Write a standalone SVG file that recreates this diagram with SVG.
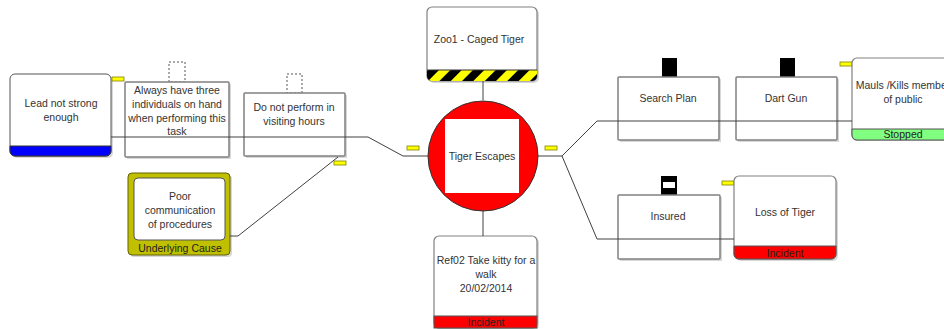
<svg xmlns="http://www.w3.org/2000/svg" width="944" height="329" viewBox="0 0 944 329">
<defs>
<style>
text{font-family:"Liberation Sans",Arial,sans-serif;font-size:10.5px;fill:#333;text-anchor:middle}
.box{fill:#fff;stroke:#808080;stroke-width:1.5}
.sh{fill:#d8d8d8}
.conn{fill:none;stroke:#404040;stroke-width:1}
.tag{fill:#ffff00;stroke:#808000;stroke-width:0.8}
.dash{fill:#fff;stroke:#555;stroke-width:1;stroke-dasharray:2,2}
.blk{fill:#000}
.band{fill:#222}
</style>
<pattern id="haz" patternUnits="userSpaceOnUse" width="16" height="16" patternTransform="rotate(45)">
<rect width="16" height="16" fill="#ffff00"/>
<rect width="8" height="16" fill="#000"/>
</pattern>
<clipPath id="zooClip"><rect x="427" y="7" width="110" height="74" rx="5"/></clipPath>
</defs>

<g id="lead">
<rect x="12" y="76" width="101" height="82" rx="5" class="sh"/>
<rect x="10" y="74" width="101" height="82" rx="5" fill="#fff" stroke="#555" stroke-width="1"/>
<path d="M10,146 H111 V151 a5,5 0 0 1 -5,5 H15 a5,5 0 0 1 -5,-5 Z" fill="#0000ff" stroke="#333" stroke-width="1"/>
<text x="61" y="107">Lead not strong</text>
<text x="61" y="121">enough</text>
<rect class="tag" x="112" y="77" width="12" height="4"/>
</g>

<g id="always">
<rect class="dash" x="169" y="62" width="16" height="20"/>
<rect x="127" y="84" width="104" height="75" class="sh"/>
<rect class="box" x="125" y="82" width="104" height="75" rx="1"/>
<text x="177" y="94">Always have three</text>
<text x="177" y="108">individuals on hand</text>
<text x="177" y="122">when performing this</text>
<text x="177" y="135">task</text>
</g>

<g id="visiting">
<rect class="dash" x="287" y="74" width="15" height="19"/>
<rect x="246" y="95" width="101" height="63" class="sh"/>
<rect class="box" x="244" y="93" width="101" height="63" rx="1"/>
<text x="294" y="111">Do not perform in</text>
<text x="294" y="125">visiting hours</text>
<rect class="tag" x="334" y="161" width="12" height="4"/>
</g>

<g id="poor">
<rect x="130" y="175" width="102" height="82" rx="4" class="sh"/>
<rect x="128" y="173" width="102" height="82" rx="4" fill="#c0c000" stroke="#606000" stroke-width="1"/>
<rect x="134" y="178" width="91" height="62" rx="4" fill="#fff" stroke="#555" stroke-width="1"/>
<text x="180" y="200">Poor</text>
<text x="180" y="214">communication</text>
<text x="180" y="228">of procedures</text>
<text class="band" x="180" y="252">Underlying Cause</text>
</g>

<g id="zoo">
<rect x="429" y="9" width="110" height="74" rx="5" class="sh"/>
<rect x="427" y="7" width="110" height="74" rx="5" fill="#fff" stroke="#808080" stroke-width="1.2"/>
<rect x="427" y="70" width="110" height="11" fill="url(#haz)" clip-path="url(#zooClip)"/>
<line x1="427" y1="70" x2="537" y2="70" stroke="#333" stroke-width="1"/>
<text x="479" y="43">Zoo1 - Caged Tiger</text>
</g>

<g id="tiger">
<circle cx="483" cy="156" r="55" fill="#ff0000" stroke="#333" stroke-width="1"/>
<rect x="445" y="119" width="74" height="74" fill="#fff"/>
<text x="482" y="160">Tiger Escapes</text>
<rect class="tag" x="407" y="146" width="12" height="4"/>
<rect class="tag" x="545" y="146" width="12" height="4"/>
</g>

<g id="ref02">
<rect x="436" y="238" width="103" height="92" rx="5" class="sh"/>
<rect x="434" y="236" width="103" height="92" rx="5" fill="#fff" stroke="#808080" stroke-width="1.2"/>
<rect x="434" y="316" width="103" height="12" fill="#ff0000" stroke="#555" stroke-width="1"/>
<text x="486" y="264">Ref02 Take kitty for a</text>
<text x="486" y="278">walk</text>
<text x="486" y="292">20/02/2014</text>
<text class="band" x="486" y="326">Incident</text>
</g>

<g id="search">
<rect class="blk" x="662" y="58" width="15" height="19"/>
<rect x="620" y="79" width="101" height="63" class="sh"/>
<rect class="box" x="618" y="77" width="101" height="63" rx="1"/>
<text x="668" y="102">Search Plan</text>
</g>

<g id="dart">
<rect class="blk" x="780" y="58" width="15" height="19"/>
<rect x="738" y="79" width="101" height="63" class="sh"/>
<rect class="box" x="736" y="77" width="101" height="63" rx="1"/>
<text x="786" y="102">Dart Gun</text>
</g>

<g id="mauls">
<rect class="tag" x="840" y="62" width="12" height="4"/>
<rect x="852" y="58" width="103" height="82" rx="5" fill="#fff" stroke="#808080" stroke-width="1.2"/>
<path d="M852,129 H955 V140 H857 a5,5 0 0 1 -5,-5 Z" fill="#80ff80" stroke="#555" stroke-width="1"/>
<text x="903" y="89">Mauls /Kills member</text>
<text x="903" y="103">of public</text>
<text class="band" x="903" y="138">Stopped</text>
</g>

<g id="insured">
<rect class="blk" x="661" y="176" width="16" height="19"/>
<rect x="663" y="182" width="12" height="6" fill="#fff"/>
<rect x="620" y="197" width="102" height="64" class="sh"/>
<rect class="box" x="618" y="195" width="102" height="64" rx="1"/>
<text x="668" y="220">Insured</text>
</g>

<g id="loss">
<rect class="tag" x="722" y="181" width="12" height="4"/>
<rect x="736" y="178" width="102" height="83" rx="5" class="sh"/>
<rect x="734" y="176" width="102" height="83" rx="5" fill="#fff" stroke="#808080" stroke-width="1.2"/>
<path d="M734,246 H836 V254 a5,5 0 0 1 -5,5 H739 a5,5 0 0 1 -5,-5 Z" fill="#ff0000" stroke="#555" stroke-width="1"/>
<text x="785" y="216">Loss of Tiger</text>
<text class="band" x="785" y="257">Incident</text>
</g>

<g id="connectors">
<polyline class="conn" points="111,137 368,137 403,156 428,156"/>
<polyline class="conn" points="230,236 238,236 338,157"/>
<line class="conn" x1="483" y1="81" x2="483" y2="100"/>
<line class="conn" x1="483" y1="210" x2="483" y2="236"/>
<polyline class="conn" points="538,156 562,156 597,121 852,121"/>
<polyline class="conn" points="562,156 597,239 734,239"/>
</g>
</svg>
